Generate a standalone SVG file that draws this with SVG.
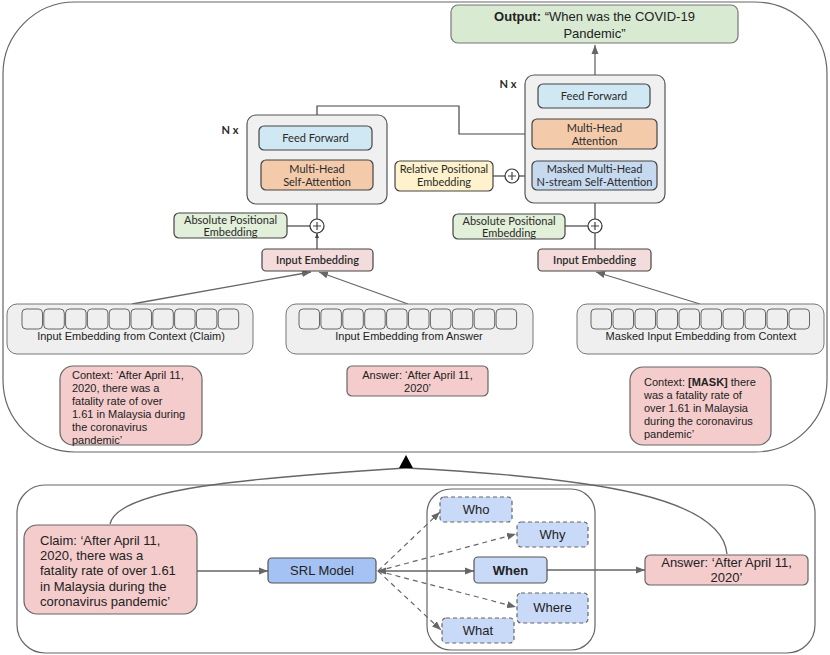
<svg xmlns="http://www.w3.org/2000/svg" width="830" height="655" viewBox="0 0 830 655">
<defs>
<style>
.frame{fill:#fff;stroke:#666;stroke-width:1.2}
.blk{fill:#f0f0f0;stroke:#555;stroke-width:1.2}
.ff{fill:#d0e8f4;stroke:#444;stroke-width:1.2}
.mha{fill:#f4cbaa;stroke:#444;stroke-width:1.2}
.msk{fill:#c6d9ef;stroke:#444;stroke-width:1.2}
.ape{fill:#e2efd9;stroke:#444;stroke-width:1.2}
.rpe{fill:#fff2cc;stroke:#444;stroke-width:1.2}
.ie{fill:#f3dcdb;stroke:#444;stroke-width:1.2}
.pnl{fill:#efefef;stroke:#777;stroke-width:1}
.cell{fill:#efefef;stroke:#666;stroke-width:1}
.pink{fill:#f4cccc;stroke:#666;stroke-width:1.2}
.out{fill:#d9ead3;stroke:#777;stroke-width:1.2}
.srl{fill:#a4c2f4;stroke:#555;stroke-width:1.2}
.q{fill:#c9daf8;stroke:#666;stroke-width:1.2;stroke-dasharray:4,3}
.qs{fill:#c9daf8;stroke:#555;stroke-width:1.2}
.plus{fill:#fff;stroke:#333;stroke-width:1.2}
.ln{fill:none;stroke:#444;stroke-width:1.2}
.gl{fill:none;stroke:#666;stroke-width:1.3}
.dl{fill:none;stroke:#666;stroke-width:1.2;stroke-dasharray:5,4}
.c{font-family:Lato,"Open Sans",sans-serif;font-size:11px;fill:#2a2a2a;text-anchor:middle}
.a{font-family:"Liberation Sans",Arial,sans-serif;fill:#222}
</style>
<marker id="sm" markerWidth="6" markerHeight="6" refX="5" refY="3" orient="auto" markerUnits="userSpaceOnUse">
<path d="M0,1 L5,3 L0,5 z" fill="#444"/>
</marker>
<marker id="ga" markerWidth="10" markerHeight="10" refX="9" refY="5" orient="auto" markerUnits="userSpaceOnUse">
<path d="M0,1.5 L9,5 L0,8.5 z" fill="#666"/>
</marker>
<marker id="gs" markerWidth="10" markerHeight="10" refX="1" refY="5" orient="auto" markerUnits="userSpaceOnUse">
<path d="M9,1.5 L0,5 L9,8.5 z" fill="#666"/>
</marker>
</defs>

<g id="top-frame"><rect class="frame" x="3" y="2" width="824" height="450" rx="72" ry="72"/></g>
<g id="bottom-frame"><rect class="frame" x="17" y="485" width="798" height="168" rx="28" ry="28"/></g>
<g id="srl-group"><rect class="frame" x="427" y="489" width="168" height="161" rx="24" ry="24"/></g>

<g id="connectors">
<line class="ln" x1="595" y1="249" x2="595" y2="233"/>
<line class="ln" x1="595" y1="219" x2="595" y2="190" marker-end="url(#sm)"/>
<line class="ln" x1="595" y1="161" x2="595" y2="149"/>
<line class="ln" x1="595" y1="119" x2="595" y2="108"/>
<line class="gl" x1="595" y1="84" x2="595" y2="45" marker-end="url(#ga)"/>
<line class="ln" x1="565" y1="226" x2="588" y2="226"/>
<line class="ln" x1="493" y1="176" x2="505" y2="176"/>
<line class="ln" x1="519" y1="176" x2="532" y2="176"/>
<line class="ln" x1="317" y1="249" x2="317" y2="233" marker-end="url(#sm)"/>
<line class="ln" x1="317" y1="219" x2="317" y2="190" marker-end="url(#sm)"/>
<line class="ln" x1="317" y1="160" x2="317" y2="150"/>
<line class="ln" x1="287" y1="226" x2="310" y2="226"/>
<polyline class="ln" points="317,126 317,106 459,106 459,134 532,134" marker-end="url(#sm)"/>
<line class="gl" x1="132" y1="304" x2="311" y2="272" marker-end="url(#ga)"/>
<line class="gl" x1="408" y1="304" x2="319" y2="272" marker-end="url(#ga)"/>
<line class="gl" x1="700" y1="304" x2="596" y2="272" marker-end="url(#ga)"/>
<path class="gl" d="M110,524 C118,488 250,478 406,468"/>
<path class="gl" d="M727,554 C722,498 600,478 406,468"/>
<polygon points="399,468 413,468 406,455" fill="#000"/>
<line class="gl" x1="197" y1="571" x2="268" y2="571" marker-end="url(#ga)"/>
<line class="gl" x1="378" y1="571" x2="474" y2="571" marker-start="url(#gs)" marker-end="url(#ga)"/>
<line class="dl" x1="378" y1="571" x2="440" y2="512" marker-end="url(#ga)"/>
<line class="dl" x1="378" y1="571" x2="516" y2="534" marker-end="url(#ga)"/>
<line class="dl" x1="378" y1="571" x2="516" y2="607" marker-end="url(#ga)"/>
<line class="dl" x1="378" y1="571" x2="441" y2="630" marker-end="url(#ga)"/>
<line class="gl" x1="547" y1="570" x2="645" y2="570" marker-end="url(#ga)"/>
</g>

<g id="output">
<rect class="out" x="451" y="5" width="287" height="38" rx="7"/>
<text class="a" x="594.5" y="21" font-size="13" text-anchor="middle"><tspan font-weight="bold">Output:</tspan> “When was the COVID-19</text>
<text class="a" x="594.5" y="38" font-size="13" text-anchor="middle">Pandemic”</text>
</g>

<g id="decoder-block">
<rect class="blk" x="525" y="75" width="140" height="128" rx="9"/>
<text class="c" x="508" y="88" font-weight="bold">N x</text>
</g>
<g id="dec-ff"><rect class="ff" x="538" y="84" width="112" height="24" rx="5"/><text class="c" x="594" y="100">Feed Forward</text></g>
<g id="dec-mha"><rect class="mha" x="532" y="119" width="125" height="30" rx="5"/><text class="c" x="594.5" y="132">Multi-Head</text><text class="c" x="594.5" y="145">Attention</text></g>
<g id="dec-msk"><rect class="msk" x="532" y="161" width="125" height="29" rx="5"/><text class="c" x="594.5" y="173">Masked Multi-Head</text><text class="c" x="594.5" y="186">N-stream Self-Attention</text></g>
<g id="rel-pe"><rect class="rpe" x="395" y="161" width="98" height="30" rx="5"/><text class="c" x="444" y="173">Relative Positional</text><text class="c" x="444" y="186">Embedding</text></g>
<g id="plus-rel"><circle class="plus" cx="512" cy="176" r="7"/><path class="ln" d="M508,176 H516 M512,172 V180"/></g>
<g id="abs-pe-r"><rect class="ape" x="453" y="214" width="112" height="25" rx="5"/><text class="c" x="509" y="225">Absolute Positional</text><text class="c" x="509" y="237">Embedding</text></g>
<g id="plus-r"><circle class="plus" cx="595" cy="226" r="7"/><path class="ln" d="M591,226 H599 M595,222 V230"/></g>
<g id="ie-r"><rect class="ie" x="538" y="249" width="113" height="22" rx="4"/><text class="c" x="594.5" y="264" font-weight="600">Input Embedding</text></g>

<g id="encoder-block">
<rect class="blk" x="247" y="115" width="140" height="89" rx="9"/>
<text class="c" x="230" y="134" font-weight="bold">N x</text>
</g>
<g id="enc-ff"><rect class="ff" x="259" y="126" width="113" height="24" rx="5"/><text class="c" x="315.5" y="142">Feed Forward</text></g>
<g id="enc-mha"><rect class="mha" x="261" y="160" width="112" height="30" rx="5"/><text class="c" x="317" y="173">Multi-Head</text><text class="c" x="317" y="186">Self-Attention</text></g>
<g id="abs-pe-l"><rect class="ape" x="174" y="213" width="113" height="25" rx="5"/><text class="c" x="230.5" y="224">Absolute Positional</text><text class="c" x="230.5" y="236">Embedding</text></g>
<g id="plus-l"><circle class="plus" cx="317" cy="226" r="7"/><path class="ln" d="M313,226 H321 M317,222 V230"/></g>
<g id="ie-l"><rect class="ie" x="262" y="249" width="111" height="22" rx="4"/><text class="c" x="317.5" y="264" font-weight="600">Input Embedding</text></g>

<g id="panel-claim">
<rect class="pnl" x="7" y="304" width="246" height="50" rx="10"/>
<rect class="cell" x="22" y="309" width="20.5" height="20" rx="4"/>
<rect class="cell" x="43.8" y="309" width="20.5" height="20" rx="4"/>
<rect class="cell" x="65.6" y="309" width="20.5" height="20" rx="4"/>
<rect class="cell" x="87.4" y="309" width="20.5" height="20" rx="4"/>
<rect class="cell" x="109.2" y="309" width="20.5" height="20" rx="4"/>
<rect class="cell" x="131" y="309" width="20.5" height="20" rx="4"/>
<rect class="cell" x="152.8" y="309" width="20.5" height="20" rx="4"/>
<rect class="cell" x="174.6" y="309" width="20.5" height="20" rx="4"/>
<rect class="cell" x="196.4" y="309" width="20.5" height="20" rx="4"/>
<rect class="cell" x="218.2" y="309" width="20.5" height="20" rx="4"/>
<text class="a" x="131" y="340" font-size="11" text-anchor="middle">Input Embedding from Context (Claim)</text>
</g>
<g id="panel-answer">
<rect class="pnl" x="286" y="304" width="247" height="50" rx="10"/>
<rect class="cell" x="299" y="309" width="20.5" height="20" rx="4"/>
<rect class="cell" x="320.9" y="309" width="20.5" height="20" rx="4"/>
<rect class="cell" x="342.8" y="309" width="20.5" height="20" rx="4"/>
<rect class="cell" x="364.7" y="309" width="20.5" height="20" rx="4"/>
<rect class="cell" x="386.6" y="309" width="20.5" height="20" rx="4"/>
<rect class="cell" x="408.5" y="309" width="20.5" height="20" rx="4"/>
<rect class="cell" x="430.4" y="309" width="20.5" height="20" rx="4"/>
<rect class="cell" x="452.3" y="309" width="20.5" height="20" rx="4"/>
<rect class="cell" x="474.2" y="309" width="20.5" height="20" rx="4"/>
<rect class="cell" x="496.1" y="309" width="20.5" height="20" rx="4"/>
<text class="a" x="409" y="340" font-size="11" text-anchor="middle">Input Embedding from Answer</text>
</g>
<g id="panel-masked">
<rect class="pnl" x="577" y="304" width="247" height="50" rx="10"/>
<rect class="cell" x="591" y="309" width="20.5" height="20" rx="4"/>
<rect class="cell" x="613" y="309" width="20.5" height="20" rx="4"/>
<rect class="cell" x="635" y="309" width="20.5" height="20" rx="4"/>
<rect class="cell" x="657" y="309" width="20.5" height="20" rx="4"/>
<rect class="cell" x="679" y="309" width="20.5" height="20" rx="4"/>
<rect class="cell" x="701" y="309" width="20.5" height="20" rx="4"/>
<rect class="cell" x="723" y="309" width="20.5" height="20" rx="4"/>
<rect class="cell" x="745" y="309" width="20.5" height="20" rx="4"/>
<rect class="cell" x="767" y="309" width="20.5" height="20" rx="4"/>
<rect class="cell" x="789" y="309" width="20.5" height="20" rx="4"/>
<text class="a" x="701" y="340" font-size="11" text-anchor="middle">Masked Input Embedding from Context</text>
</g>

<g id="context-left">
<rect class="pink" x="60" y="366" width="142" height="79" rx="13"/>
<text class="a" font-size="11"><tspan x="72" y="379">Context: ‘After April 11,</tspan><tspan x="72" y="392">2020, there was a</tspan><tspan x="72" y="405">fatality rate of over</tspan><tspan x="72" y="418">1.61 in Malaysia during</tspan><tspan x="72" y="431">the coronavirus</tspan><tspan x="72" y="444">pandemic’</tspan></text>
</g>
<g id="answer-mid">
<rect class="pink" x="347" y="366" width="141" height="30" rx="5"/>
<text class="a" font-size="11" text-anchor="middle"><tspan x="417.5" y="379">Answer: ‘After April 11,</tspan><tspan x="417.5" y="392">2020’</tspan></text>
</g>
<g id="context-right">
<rect class="pink" x="630" y="367" width="141" height="78" rx="13"/>
<text class="a" font-size="11"><tspan x="644" y="386">Context: <tspan font-weight="bold">[MASK]</tspan> there</tspan><tspan x="644" y="399">was a fatality rate of</tspan><tspan x="644" y="412">over 1.61 in Malaysia</tspan><tspan x="644" y="425">during the coronavirus</tspan><tspan x="644" y="438">pandemic’</tspan></text>
</g>

<g id="claim">
<rect class="pink" x="24" y="525" width="173" height="89" rx="13"/>
<text class="a" font-size="13"><tspan x="40" y="545">Claim: ‘After April 11,</tspan><tspan x="40" y="560">2020, there was a</tspan><tspan x="40" y="575">fatality rate of over 1.61</tspan><tspan x="40" y="591">in Malaysia during the</tspan><tspan x="40" y="606">coronavirus pandemic’</tspan></text>
</g>
<g id="srl-model">
<rect class="srl" x="268" y="558" width="108" height="25" rx="4"/>
<text class="a" x="322" y="575" font-size="13" text-anchor="middle">SRL Model</text>
</g>
<g id="who"><rect class="q" x="440" y="497" width="72" height="25" rx="4"/><text class="a" x="476" y="514" font-size="13" text-anchor="middle">Who</text></g>
<g id="why"><rect class="q" x="517" y="522" width="71" height="25" rx="4"/><text class="a" x="552.5" y="539" font-size="13" text-anchor="middle">Why</text></g>
<g id="when"><rect class="qs" x="474" y="557" width="73" height="26" rx="4"/><text class="a" x="510.5" y="575" font-size="13" font-weight="bold" text-anchor="middle">When</text></g>
<g id="where"><rect class="q" x="517" y="593" width="71" height="30" rx="4"/><text class="a" x="552.5" y="612" font-size="13" text-anchor="middle">Where</text></g>
<g id="what"><rect class="q" x="442" y="618" width="72" height="25" rx="4"/><text class="a" x="478" y="635" font-size="13" text-anchor="middle">What</text></g>
<g id="answer-bottom">
<rect class="pink" x="645" y="555" width="163" height="30" rx="5"/>
<text class="a" font-size="13" text-anchor="middle"><tspan x="726.5" y="567">Answer: ‘After April 11,</tspan><tspan x="726.5" y="582">2020’</tspan></text>
</g>
</svg>
